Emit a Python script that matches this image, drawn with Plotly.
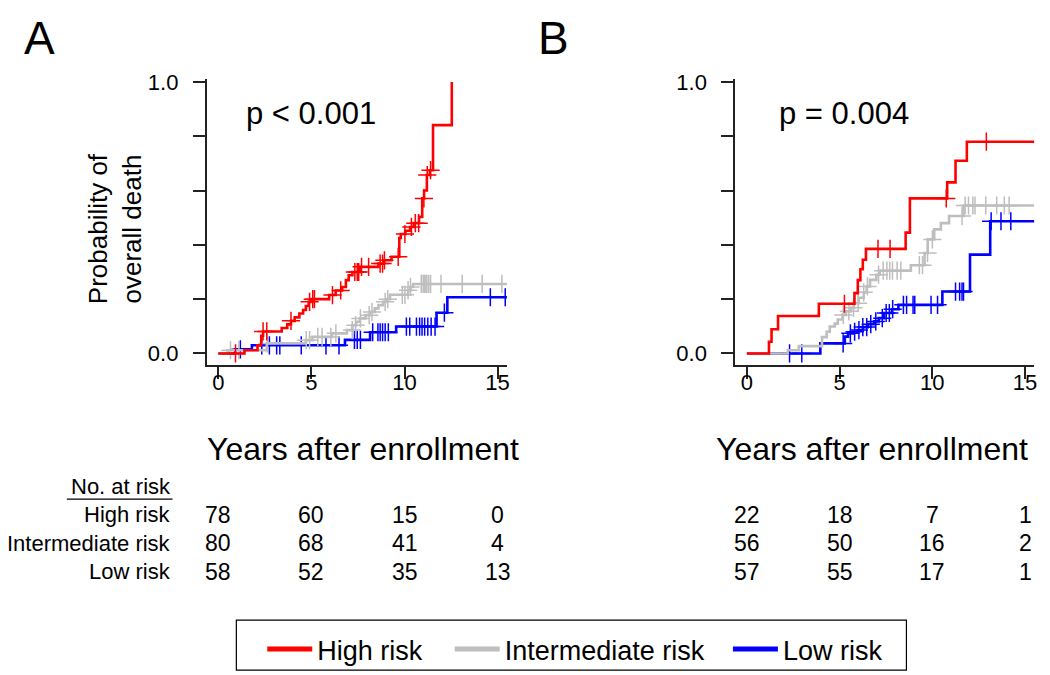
import numpy as np
import plotly.graph_objects as go

W, H = 1050, 675
OX, OY = 8, 8          # page offset of the plot div inside the browser
FONT = "Liberation Sans, Arial, sans-serif"

# ---------------- data: panel A ----------------
a_high_t = [0, 1.4, 2.1, 2.3, 2.4, 3.4, 3.7, 3.9, 4.1, 4.35, 4.55, 4.7, 4.85, 4.95, 5.95, 6.3, 6.65,
            6.85, 7.0, 7.2, 7.6, 8.6, 8.9, 9.3, 9.72, 9.8, 10.05, 10.3, 10.5, 10.78, 10.95, 11.05,
            11.2, 11.36, 11.53, 12.54]
a_high_p = [0, 0.012, 0.03, 0.065, 0.081, 0.094, 0.107, 0.12, 0.133, 0.147, 0.16, 0.175, 0.19, 0.2,
            0.215, 0.232, 0.245, 0.27, 0.288, 0.3, 0.319, 0.331, 0.343, 0.356, 0.425, 0.44, 0.452,
            0.466, 0.48, 0.503, 0.571, 0.6, 0.657, 0.675, 0.841, 1.0]
a_high_cens = [0.92, 2.4, 2.6, 3.9, 4.9, 5.07, 5.16, 6.13, 6.57, 7.33, 7.46, 7.54, 7.69, 8.07, 8.69,
               8.82, 8.92, 9.66, 10.02, 10.37, 10.58, 10.76, 11.04, 11.22, 11.4]
a_high_end = None

a_inter_t = [0, 0.5, 2.6, 4.7, 5.05, 6.1, 6.9, 7.2, 7.4, 7.6, 7.9, 8.15, 8.4, 8.6, 8.85, 9.05, 9.22,
             10.19, 10.32, 10.46]
a_inter_p = [0, 0.012, 0.037, 0.049, 0.061, 0.074, 0.086, 0.104, 0.117, 0.129, 0.141, 0.153, 0.166,
             0.178, 0.19, 0.2, 0.216, 0.233, 0.245, 0.256]
a_inter_cens = [0.65, 1.1, 2.63, 4.72, 4.9, 5.34, 5.57, 6.04, 6.31, 7.19, 7.37, 7.63, 8.1, 8.25, 8.96,
                9.1, 9.88, 10.02, 10.19, 10.32, 10.9, 11.0, 11.05, 11.1, 11.15, 11.2, 11.3, 11.4,
                11.96, 13.1, 14.17, 15.23]
a_inter_end = 15.5

a_low_t = [0, 0.9, 1.8, 6.8, 8.15, 9.55, 11.72, 12.3]
a_low_p = [0, 0.015, 0.03, 0.05, 0.078, 0.099, 0.15, 0.207]
a_low_cens = [1.18, 2.33, 2.74, 3.13, 3.3, 4.45, 5.78, 6.48, 7.31, 7.46, 7.63, 8.29, 8.57, 8.69, 8.82,
              8.96, 9.13, 10.1, 10.28, 10.64, 10.81, 10.94, 11.08, 11.25, 11.43, 11.64, 12.14,
              14.61, 15.41]
a_low_end = 15.5

# ---------------- data: panel B ----------------
b_high_t = [0, 1.19, 1.33, 1.68, 3.88, 5.8, 5.98, 6.12, 6.25, 6.42, 8.56, 8.79, 10.8, 11.25, 11.86]
b_high_p = [0, 0.043, 0.089, 0.138, 0.183, 0.222, 0.27, 0.31, 0.345, 0.385, 0.445, 0.571, 0.63,
            0.71, 0.78]
b_high_cens = [5.26, 7.07, 7.72, 10.75, 12.91]
b_high_end = 15.5

b_inter_t = [0, 2.2, 2.8, 4.05, 4.3, 4.47, 4.74, 4.9, 5.16, 5.33, 5.6, 5.77, 6.03, 6.3, 6.46, 6.64,
             6.98, 7.16, 8.84, 9.58, 9.75, 10.1, 10.46, 10.9, 11.68]
b_inter_p = [0, 0.012, 0.027, 0.06, 0.08, 0.099, 0.11, 0.125, 0.142, 0.155, 0.168, 0.185, 0.205,
             0.225, 0.247, 0.271, 0.29, 0.305, 0.325, 0.37, 0.42, 0.457, 0.48, 0.506, 0.545]
b_inter_cens = [5.2, 5.5, 5.75, 6.0, 6.3, 6.5, 7.1, 7.35, 7.55, 7.7, 7.85, 8.1, 8.3, 9.3, 9.47, 9.74,
                10.0, 11.6, 11.77, 11.95, 12.18, 12.3, 12.88, 13.47, 13.88, 14.14]
b_inter_end = 15.5

b_low_t = [0, 3.96, 5.28, 5.46, 5.72, 5.98, 6.25, 6.51, 6.86, 7.11, 7.4, 7.82, 8.17, 10.54, 12.03,
           13.12]
b_low_p = [0, 0.037, 0.062, 0.074, 0.08, 0.086, 0.097, 0.108, 0.118, 0.13, 0.149, 0.163, 0.179,
           0.228, 0.364, 0.487]
b_low_cens = [2.3, 2.96, 5.19, 5.58, 5.81, 6.04, 6.25, 6.46, 6.68, 6.95, 7.3, 7.51, 7.68, 7.86,
              8.44, 8.61, 8.96, 9.05, 9.93, 10.28, 11.25, 11.47, 11.6, 11.68, 13.17, 13.7, 14.23]
b_low_end = 15.5

# ---------------- risk table ----------------
risk_times = [0, 5, 10, 15]
risk_groups = ["High risk", "Intermediate risk", "Low risk"]
a_risk = [[78, 60, 15, 0], [80, 68, 41, 4], [58, 52, 35, 13]]
b_risk = [[22, 18, 7, 1], [56, 50, 16, 2], [57, 55, 17, 1]]

group_names = ["High risk", "Intermediate risk", "Low risk"]
group_colors = ["#FF0000", "#BEBEBE", "#0000FF"]
p_texts = ["p < 0.001", "p = 0.004"]
panel_labels = ["A", "B"]
x_ticks = [0, 5, 10, 15]
y_ticks = [0, 0.2, 0.4, 0.6, 0.8, 1.0]
y_ticktext = ["0.0", "", "", "", "", "1.0"]


def px(x):
    return (x - OX) / W


def py(y):
    return 1 - (y - OY) / H


def step_val(times, probs, t):
    t_arr = np.asarray(times)
    p_arr = np.asarray(probs)
    idx = np.searchsorted(t_arr, np.asarray(t), side="right") - 1
    return p_arr[np.clip(idx, 0, len(p_arr) - 1)]


fig = go.Figure()

panels = [
    ("x", "y", [(a_low_t, a_low_p, a_low_cens, a_low_end, 2),
                (a_inter_t, a_inter_p, a_inter_cens, a_inter_end, 1),
                (a_high_t, a_high_p, a_high_cens, a_high_end, 0)]),
    ("x2", "y2", [(b_low_t, b_low_p, b_low_cens, b_low_end, 2),
                  (b_inter_t, b_inter_p, b_inter_cens, b_inter_end, 1),
                  (b_high_t, b_high_p, b_high_cens, b_high_end, 0)]),
]

for xa, ya, groups in panels:
    for t, p, cens, end, gi in groups:
        xs = list(t)
        ys = list(p)
        if end is not None:
            xs.append(end)
            ys.append(p[-1])
        c = group_colors[gi]
        fig.add_trace(go.Scatter(x=xs, y=ys, mode="lines", line=dict(color=c, width=2.6, shape="hv"),
                                 xaxis=xa, yaxis=ya, showlegend=False, hoverinfo="skip"))
        fig.add_trace(go.Scatter(x=cens, y=step_val(t, p, cens), mode="markers",
                                 marker=dict(symbol="cross-thin", size=13,
                                             line=dict(width=1.5, color=c)),
                                 xaxis=xa, yaxis=ya, showlegend=False, hoverinfo="skip"))

# legend entries (one legend per entry so that spacing matches the boxed key)
legend_ids = ["legend", "legend2", "legend3"]
legend_left = [263, 451, 730]
for name, c, lid in zip(group_names, group_colors, legend_ids):
    fig.add_trace(go.Scatter(x=[None], y=[None], mode="lines", line=dict(color=c, width=5),
                             name=name, xaxis="x", yaxis="y", legend=lid, showlegend=True))

axis_common = dict(showgrid=False, zeroline=False, showline=True, linecolor="#222", linewidth=1.5,
                   ticks="outside", ticklen=12, tickwidth=1.5, tickcolor="#222",
                   tickfont=dict(family=FONT, size=22, color="black"))

# vertical placement of the plotting regions (pixels from the top)
y_zero_px, y_one_px = 349.0, 73.0
ppu = y_zero_px - y_one_px
yrange = [-0.044, 1.01]
ydom = [py(y_zero_px - yrange[0] * ppu), py(y_zero_px - yrange[1] * ppu)]
xrange_ = [-0.635, 15.5]


def xdom(x0_px, x15_px):
    s = (x15_px - x0_px) / 15.0
    return [px(x0_px + xrange_[0] * s), px(x0_px + xrange_[1] * s)]


legend_common = dict(orientation="h", xanchor="left", yanchor="middle", y=py(650),
                     bgcolor="rgba(0,0,0,0)", borderwidth=0, itemwidth=45,
                     font=dict(family=FONT, size=27, color="black"))

fig.update_layout(
    width=W, height=H, margin=dict(l=0, r=0, t=0, b=0),
    paper_bgcolor="white", plot_bgcolor="white",
    font=dict(family=FONT, color="black"),
    xaxis=dict(domain=xdom(219, 499), range=xrange_, anchor="y", tickvals=x_ticks,
               ticklabelstandoff=-16, **axis_common),
    yaxis=dict(domain=ydom, range=yrange, anchor="x", tickvals=y_ticks, ticktext=y_ticktext,
               ticklabelstandoff=10, **axis_common),
    xaxis2=dict(domain=xdom(749, 1028), range=xrange_, anchor="y2", tickvals=x_ticks,
                ticklabelstandoff=-16, **axis_common),
    yaxis2=dict(domain=ydom, range=yrange, anchor="x2", tickvals=y_ticks, ticktext=y_ticktext,
                ticklabelstandoff=10, **axis_common),
    showlegend=True,
    legend=dict(x=px(legend_left[0]), **legend_common),
    legend2=dict(x=px(legend_left[1]), **legend_common),
    legend3=dict(x=px(legend_left[2]), **legend_common),
)

ann = []
for lab, xpix in zip(panel_labels, [40, 555]):
    ann.append(dict(text=lab, x=px(xpix), y=1.0 + 7.0 / H, xref="paper", yref="paper",
                    showarrow=False, xanchor="center", yanchor="top", borderpad=0,
                    font=dict(size=46)))
for txt, xpix in zip(p_texts, [312, 846]):
    ann.append(dict(text=txt, x=px(xpix), y=py(105), xref="paper", yref="paper", showarrow=False,
                    xanchor="center", yanchor="middle", font=dict(size=31)))
ann.append(dict(text="Probability of<br>overall death", x=px(115), y=py(222), xref="paper",
                yref="paper", showarrow=False, textangle=-90, xanchor="center", yanchor="middle",
                font=dict(size=26)))
for xpix in [364, 874]:
    ann.append(dict(text="Years after enrollment", x=px(xpix), y=py(446), xref="paper",
                    yref="paper", showarrow=False, xanchor="center", yanchor="middle",
                    font=dict(size=32)))
ann.append(dict(text="No. at risk", x=px(173), y=py(484), xref="paper", yref="paper",
                showarrow=False, xanchor="right", yanchor="middle", font=dict(size=22)))
row_y = [513, 542, 571]
for gname, ry in zip(risk_groups, row_y):
    ann.append(dict(text=gname, x=px(173), y=py(ry), xref="paper", yref="paper",
                    showarrow=False, xanchor="right", yanchor="middle", font=dict(size=22)))
for xa, table in [("x", a_risk), ("x2", b_risk)]:
    for row, ry in zip(table, row_y):
        for t, n in zip(risk_times, row):
            ann.append(dict(text=str(n), x=t, y=py(ry), xref=xa, yref="paper", showarrow=False,
                            xanchor="center", yanchor="middle", font=dict(size=23)))
fig.update_layout(annotations=ann)

fig.add_shape(type="line", xref="paper", yref="paper", x0=px(67), x1=px(173), y0=py(497),
              y1=py(497), line=dict(color="black", width=1.2))
fig.add_shape(type="rect", xref="paper", yref="paper", x0=px(237), x1=px(909), y0=py(620),
              y1=py(671), line=dict(color="black", width=1.2), fillcolor="rgba(0,0,0,0)")

fig.write_html("out.html")
